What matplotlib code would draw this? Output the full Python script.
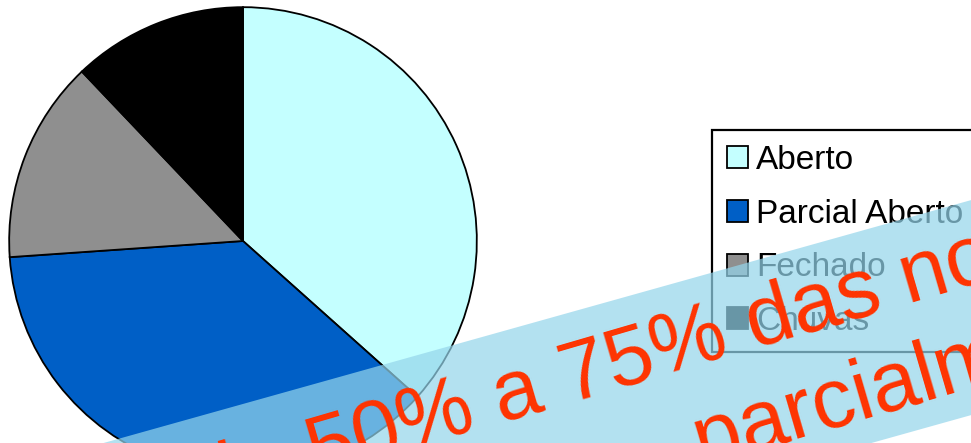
import numpy as np
import matplotlib
matplotlib.use("Agg")
import matplotlib.pyplot as plt

# slice shares (percent)
labels = ["Aberto", "Parcial Aberto", "Fechado", "Chuvas"]
values = [36.6, 37.3, 14.0, 12.1]
colors = ["#C4FFFF", "#005FC6", "#8F8F8F", "#000000"]

banner_lines = ["de 50% a 75% das noites", "parcialmente abertas"]

W, H = 971, 443
fig = plt.figure(figsize=(W / 100, H / 100), dpi=100)

# pie, centre and radius in pixels
cx, cy, r = 243, 241, 235
ax = fig.add_axes([(cx - r) / W, (H - cy - r) / H, 2 * r / W, 2 * r / H])
wedges, _ = ax.pie(values, colors=colors, startangle=90, counterclock=False,
                   wedgeprops=dict(edgecolor="black", linewidth=1.3))
ax.set_xlim(-1.005, 1.005)
ax.set_ylim(-1.005, 1.005)
ax.set_aspect("equal")

leg = ax.legend(wedges, labels, loc="upper left",
                bbox_to_anchor=(712 / W, 1 - 130 / H), bbox_transform=fig.transFigure,
                prop={"family": "Liberation Sans", "size": 24},
                frameon=True, fancybox=False, shadow=False, framealpha=1,
                edgecolor="black", handlelength=0.63, handleheight=0.63,
                handletextpad=0.25, labelspacing=0.68, borderpad=0.45,
                borderaxespad=0)
leg.get_frame().set_linewidth(1.6)

# translucent banner on top of everything
ov = fig.add_axes([0, 0, 1, 1])
ov.set_xlim(0, W)
ov.set_ylim(H, 0)
ov.axis("off")
slope = 0.28
bx = np.array([0, W, W, 0])
by = 332 - slope * (bx - 500) + np.array([0, 0, 215, 215])
ov.fill(bx, by, color=(148 / 255, 213 / 255, 235 / 255), alpha=0.71, lw=0, zorder=1)

ang = 16.3
ov.text(203, 510, banner_lines[0], rotation=ang, rotation_mode="anchor",
        ha="left", va="baseline", fontsize=61, color="#FF3300",
        family="Liberation Sans", zorder=2, clip_on=False)
ov.text(702, 467, banner_lines[1], rotation=ang, rotation_mode="anchor",
        ha="left", va="baseline", fontsize=61, color="#FF3300",
        family="Liberation Sans", zorder=2, clip_on=False)

plt.savefig("out.png", dpi=100)
plt.close()
